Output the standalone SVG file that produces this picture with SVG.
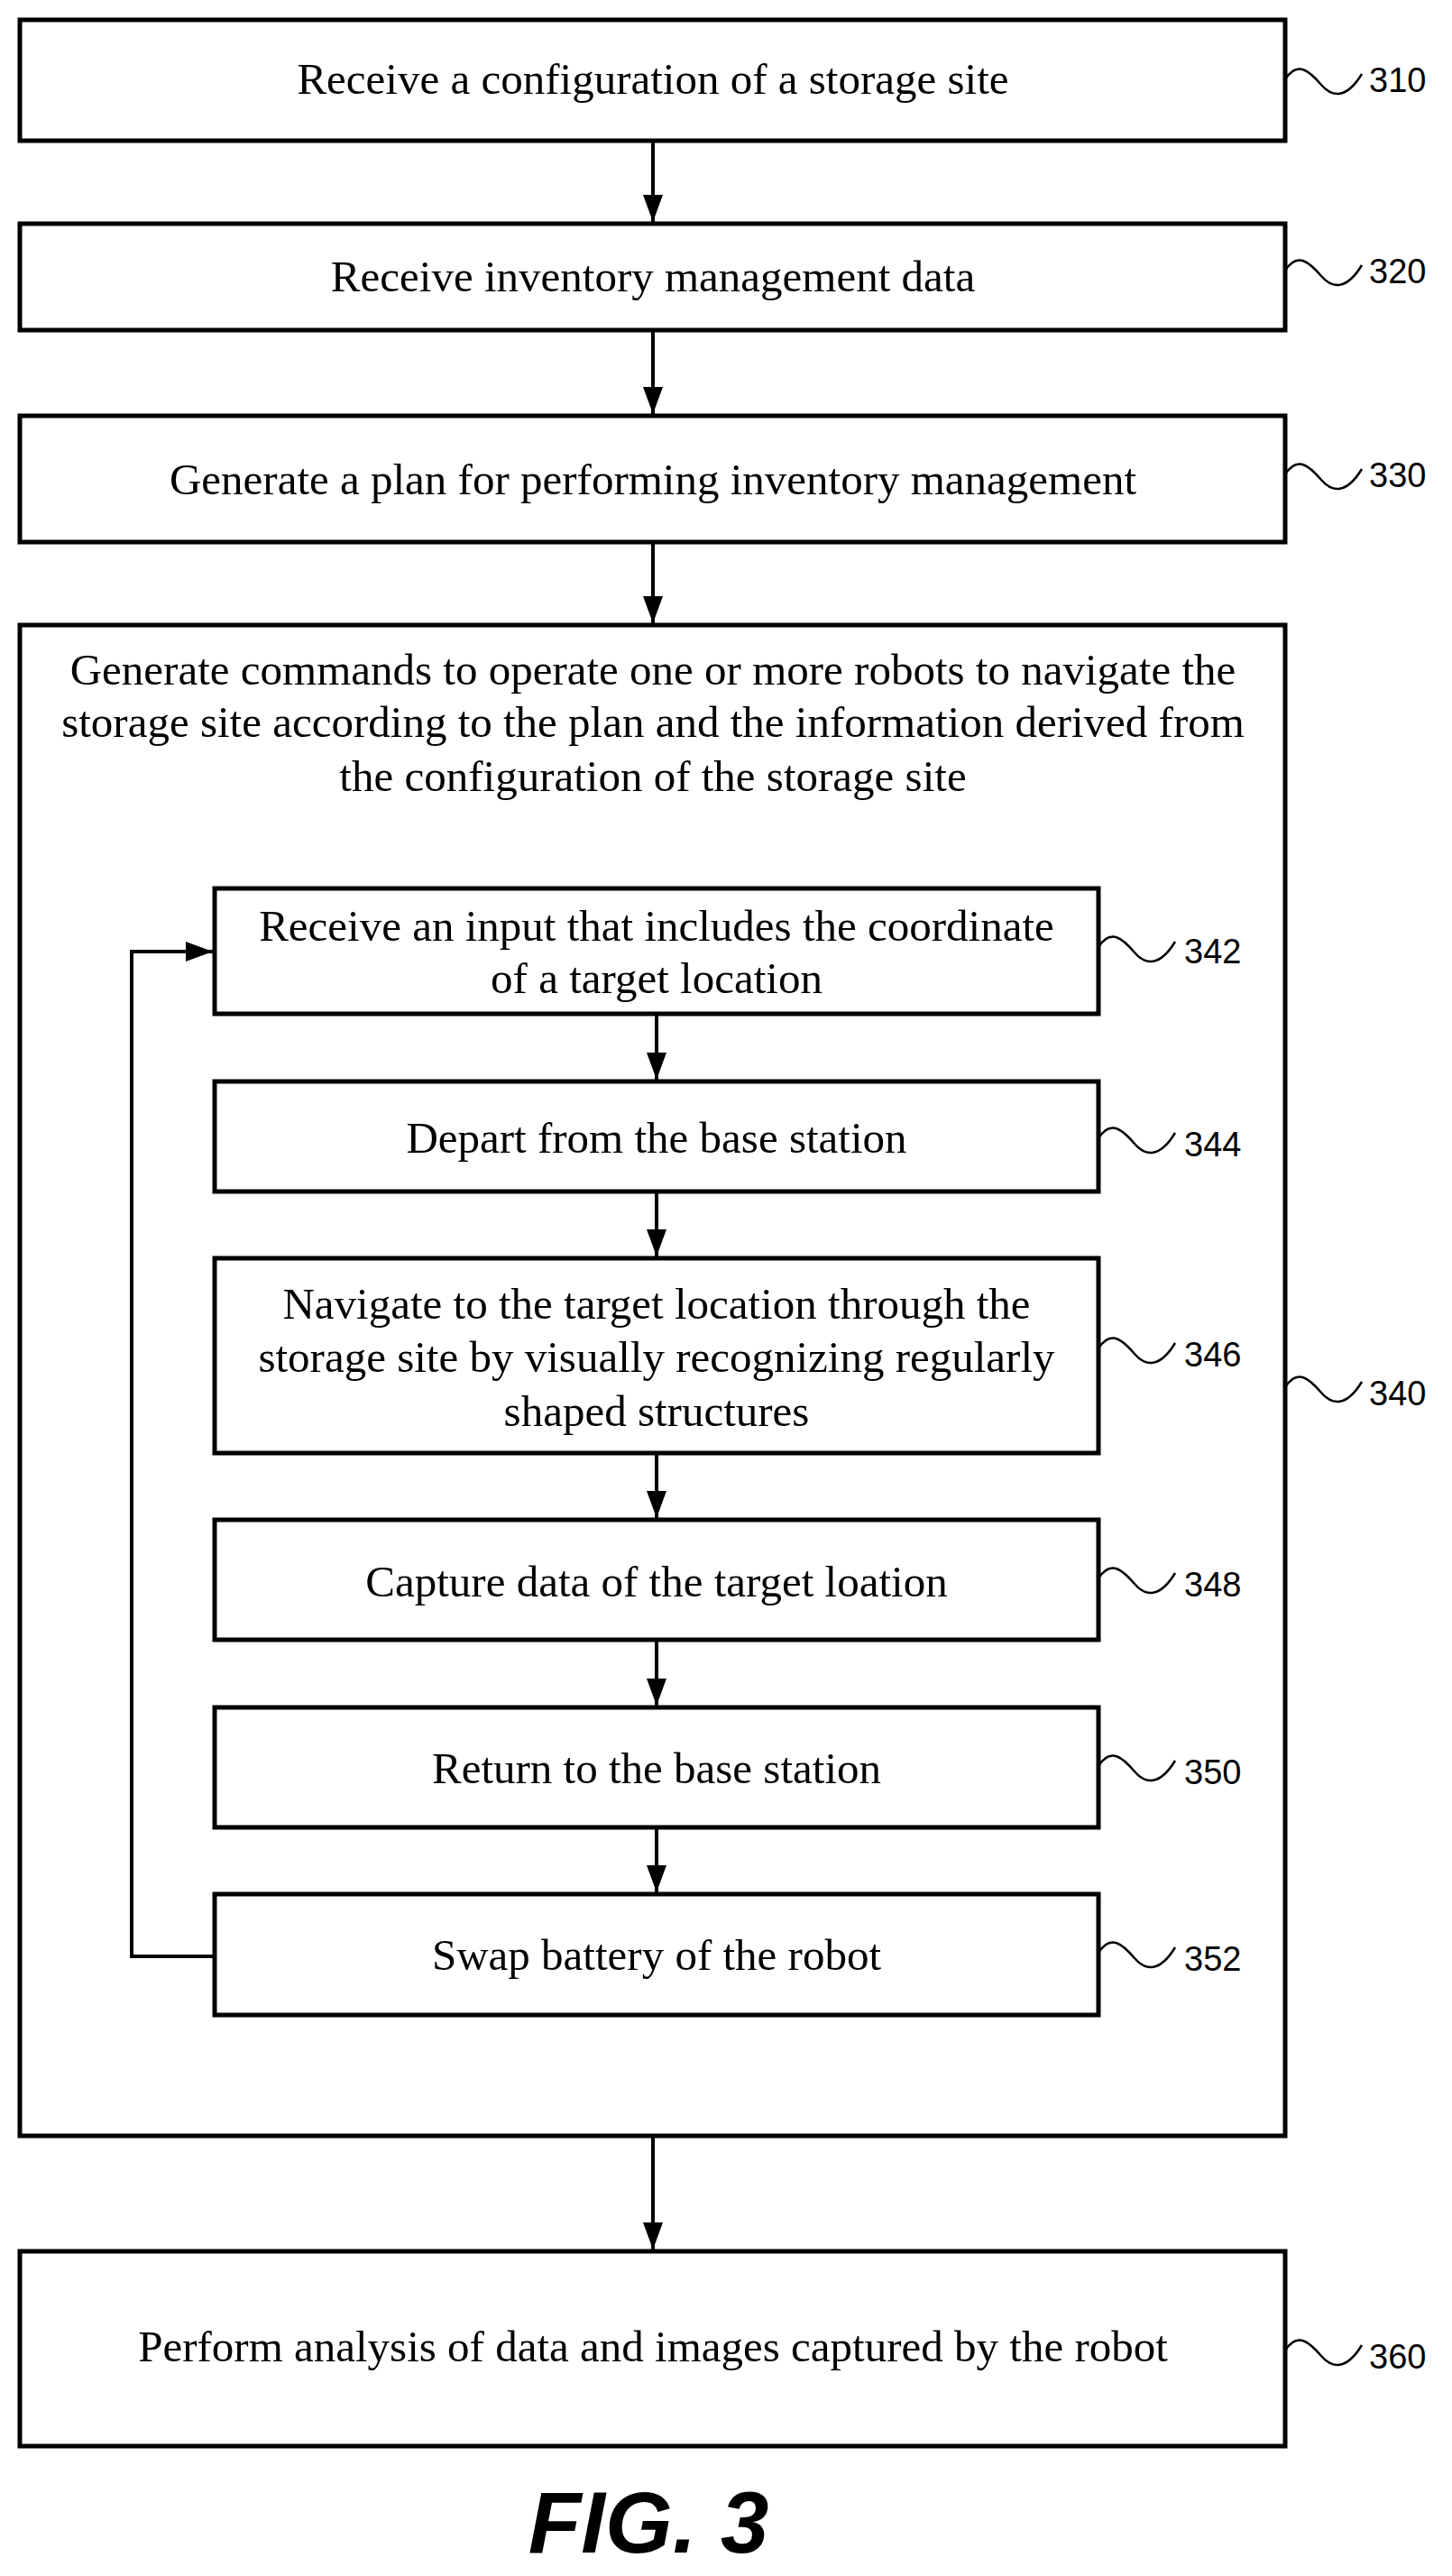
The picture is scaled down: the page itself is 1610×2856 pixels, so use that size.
<svg xmlns="http://www.w3.org/2000/svg" width="1610" height="2856" viewBox="0 0 1610 2856">
<style>
.box{fill:#fff;stroke:#000;stroke-width:5}
.t{font-family:"Liberation Serif","Times New Roman",serif;font-size:49px;text-anchor:middle;fill:#000}
.ref{font-family:"Liberation Sans",Arial,sans-serif;font-size:38px;fill:#000}
.sq{fill:none;stroke:#000;stroke-width:2.5}
.c{fill:none;stroke:#000;stroke-width:4}
</style>
<defs>
<marker id="a" viewBox="0 0 30 22" refX="30" refY="11" markerWidth="30" markerHeight="22" markerUnits="userSpaceOnUse" orient="auto"><path d="M0,0 L30,11 L0,22 Z" fill="#000"/></marker>
</defs>
<g id="n310"><rect class="box" x="22" y="22" width="1403" height="134"/><text class="t" x="724" y="104">Receive a configuration of a storage site</text><path class="sq" d="M1425,88 c14,-22 28,-8 40,6 s28,16 45,-12"/><text class="ref" x="1518" y="102">310</text></g>
<g id="n320"><rect class="box" x="22" y="248" width="1403" height="118"/><text class="t" x="724" y="323">Receive inventory management data</text><path class="sq" d="M1425,300 c14,-22 28,-8 40,6 s28,16 45,-12"/><text class="ref" x="1518" y="314">320</text></g>
<g id="n330"><rect class="box" x="22" y="461" width="1403" height="140"/><text class="t" x="724" y="548">Generate a plan for performing inventory management</text><path class="sq" d="M1425,526 c14,-22 28,-8 40,6 s28,16 45,-12"/><text class="ref" x="1518" y="540">330</text></g>
<g id="n340"><rect class="box" x="22" y="693" width="1403" height="1675"/>
<text class="t" x="724" y="759">Generate commands to operate one or more robots to navigate the</text>
<text class="t" x="724" y="817">storage site according to the plan and the information derived from</text>
<text class="t" x="724" y="877">the configuration of the storage site</text>
<path class="sq" d="M1425,1538 c14,-22 28,-8 40,6 s28,16 45,-12"/><text class="ref" x="1518" y="1558">340</text></g>
<g id="n342"><rect class="box" x="238" y="985" width="980" height="139"/><text class="t" x="728" y="1043">Receive an input that includes the coordinate</text><text class="t" x="728" y="1101">of a target location</text><path class="sq" d="M1218,1050 c14,-22 28,-8 40,6 s28,16 45,-12"/><text class="ref" x="1313" y="1068">342</text></g>
<g id="n344"><rect class="box" x="238" y="1199" width="980" height="122"/><text class="t" x="728" y="1278">Depart from the base station</text><path class="sq" d="M1218,1262 c14,-22 28,-8 40,6 s28,16 45,-12"/><text class="ref" x="1313" y="1282">344</text></g>
<g id="n346"><rect class="box" x="238" y="1395" width="980" height="216"/><text class="t" x="728" y="1462">Navigate to the target location through the</text><text class="t" x="728" y="1521">storage site by visually recognizing regularly</text><text class="t" x="728" y="1581">shaped structures</text><path class="sq" d="M1218,1495 c14,-22 28,-8 40,6 s28,16 45,-12"/><text class="ref" x="1313" y="1515">346</text></g>
<g id="n348"><rect class="box" x="238" y="1685" width="980" height="133"/><text class="t" x="728" y="1770">Capture data of the target loation</text><path class="sq" d="M1218,1750 c14,-22 28,-8 40,6 s28,16 45,-12"/><text class="ref" x="1313" y="1770">348</text></g>
<g id="n350"><rect class="box" x="238" y="1893" width="980" height="133"/><text class="t" x="728" y="1977">Return to the base station</text><path class="sq" d="M1218,1958 c14,-22 28,-8 40,6 s28,16 45,-12"/><text class="ref" x="1313" y="1978">350</text></g>
<g id="n352"><rect class="box" x="238" y="2100" width="980" height="134"/><text class="t" x="728" y="2184">Swap battery of the robot</text><path class="sq" d="M1218,2165 c14,-22 28,-8 40,6 s28,16 45,-12"/><text class="ref" x="1313" y="2185">352</text></g>
<g id="n360"><rect class="box" x="22" y="2496" width="1403" height="216"/><text class="t" x="724" y="2618">Perform analysis of data and images captured by the robot</text><path class="sq" d="M1425,2606 c14,-22 28,-8 40,6 s28,16 45,-12"/><text class="ref" x="1518" y="2626">360</text></g>
<g id="connectors">
<line class="c" x1="724" y1="158" x2="724" y2="246" marker-end="url(#a)"/>
<line class="c" x1="724" y1="368" x2="724" y2="459" marker-end="url(#a)"/>
<line class="c" x1="724" y1="603" x2="724" y2="691" marker-end="url(#a)"/>
<line class="c" x1="724" y1="2370" x2="724" y2="2494" marker-end="url(#a)"/>
<line class="c" x1="728" y1="1126" x2="728" y2="1197" marker-end="url(#a)"/>
<line class="c" x1="728" y1="1323" x2="728" y2="1393" marker-end="url(#a)"/>
<line class="c" x1="728" y1="1613" x2="728" y2="1683" marker-end="url(#a)"/>
<line class="c" x1="728" y1="1820" x2="728" y2="1891" marker-end="url(#a)"/>
<line class="c" x1="728" y1="2028" x2="728" y2="2098" marker-end="url(#a)"/>
<polyline class="c" points="236,2169 146,2169 146,1055 236,1055" marker-end="url(#a)"/>
</g>
<text x="719" y="2830" style="font-family:'Liberation Sans',Arial,sans-serif;font-size:96px;font-weight:bold;font-style:italic;text-anchor:middle">FIG. 3</text>
</svg>
